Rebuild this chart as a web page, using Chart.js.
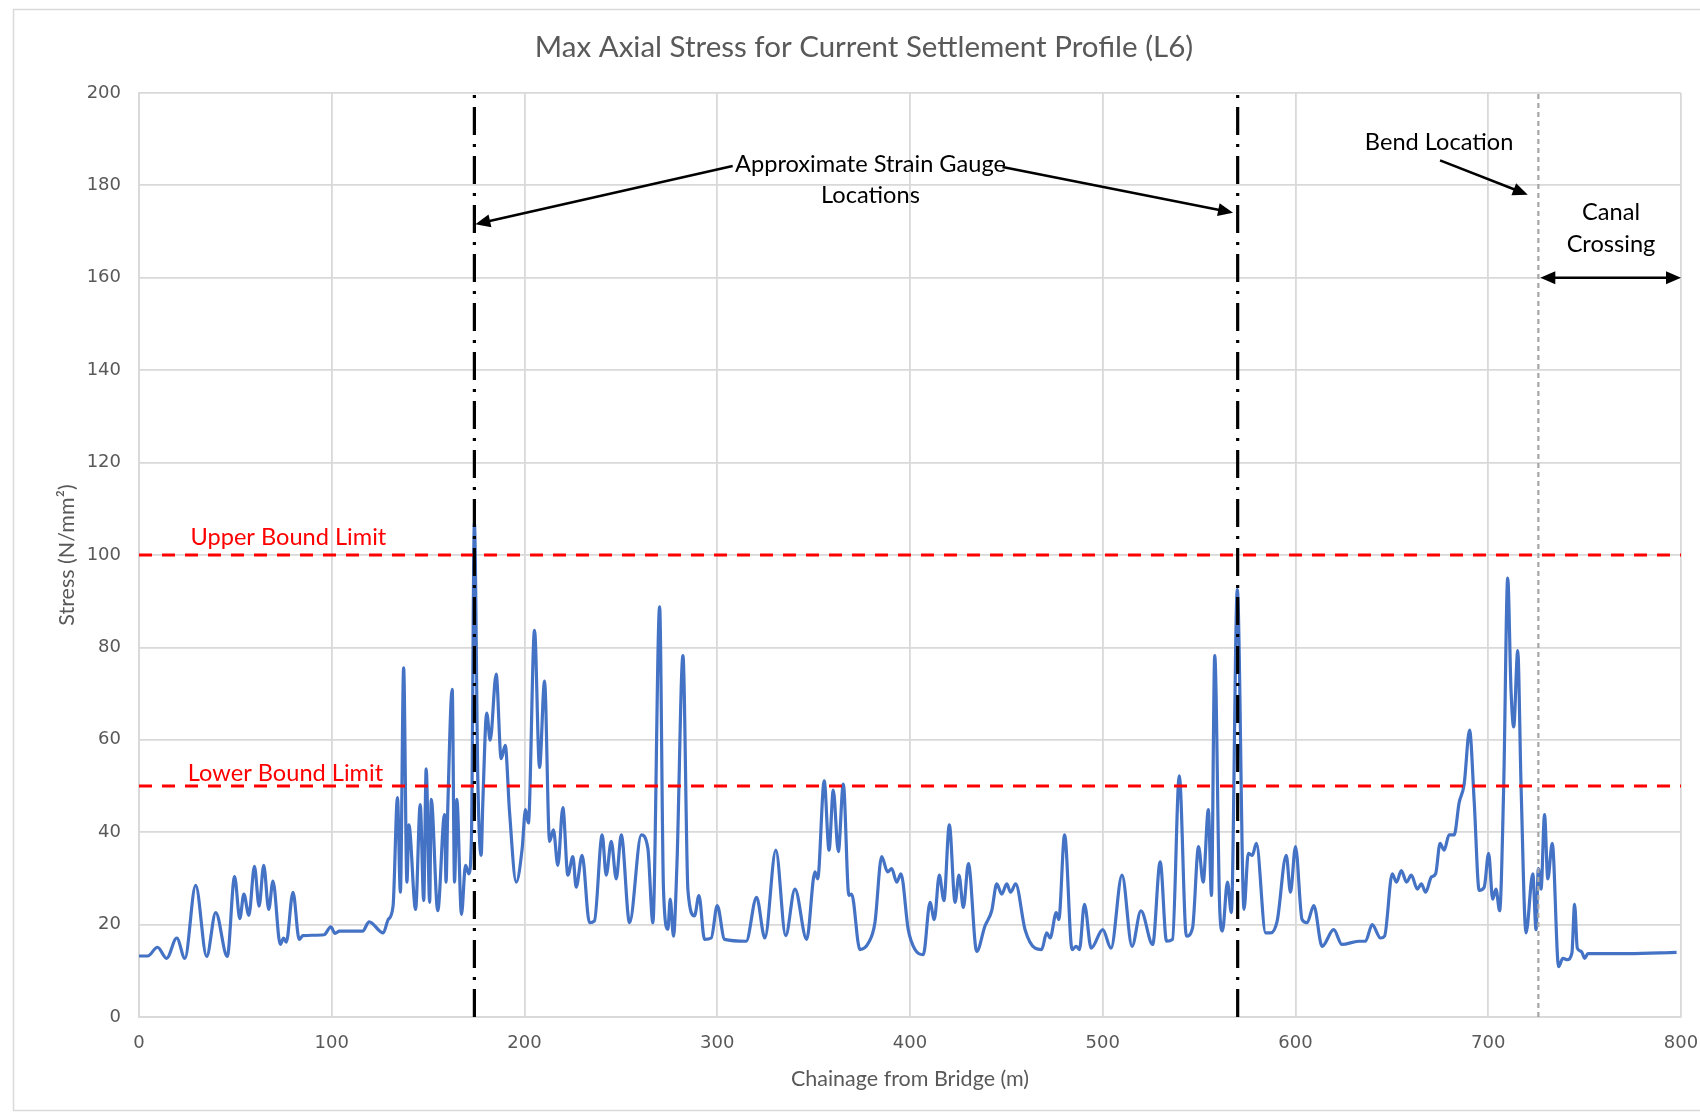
<!DOCTYPE html>
<html><head><meta charset="utf-8">
<script src="https://cdn.jsdelivr.net/npm/chart.js@4.4.1/dist/chart.umd.min.js"></script>
<style>html,body{margin:0;padding:0;background:#fff;}#wrap{width:1700px;height:1116px;}</style>
</head><body><div id="wrap"><canvas id="c" width="1700" height="1116"></canvas></div>
<script>
// ---------------- DATA ----------------
const chainage = [0,4.5,9.6,14.3,19.6,23.8,29.4,35.1,39.8,45.8,49.6,52.3,54.4,57,59.9,62.3,64.7,67.3,69.5,73.3,75,76.4,79.9,83.1,85,90,96,99.5,101.7,104,116,119.4,126.7,129.3,131.8,134.1,135.6,137.3,139,140,143.5,145.9,147.7,149,150.8,151.6,155,
158.5,159.3,160.2,162.5,163.7,164.9,167.3,169.4,171.1,172.5,174,175.8,177.5,178.4,180.4,182.2,185.3,187.9,190,192.2,195.7,198.8,200.5,202,205.2,207.8,210.4,213,215,217.3,219.9,222.5,225.1,226.8,229.9,233.7,236.3,240.3,242.4,245,247.6,250.2,254.5,260.6,264,266.6,270.1,272.1,274.4,275.6,277.3,279.1,282.2,284.8,288.2,290.5,293.4,296.9,300,303.8,315,
320.4,324.7,330.4,335.5,340.3,346.4,350.7,352.1,355.5,358,360.2,362.8,365.4,368.3,369.7,374,378.4,381.8,385.3,388.4,390.5,393.1,395.3,399.1,402.6,406.9,410.4,412.6,415.2,417.6,420.4,423.4,425.4,427.7,430.3,434.6,438.9,442.4,445,447.6,450.2,452.2,454.8,459.7,464.9,468.3,470.9,472.7,
475.9,477.2,480.2,484.1,486.2,487.9,490.5,494,500,504.3,510,515.2,519.8,525.9,529.8,533.1,536.2,539.7,543.4,546.6,549.7,552.1,554.8,556.4,558.1,560.7,562.1,564.7,566.7,569.8,573.3,575.5,577.6,579.7,584.5,587.1,590.5,595.2,597.4,600,603.4,606,609.5,613.8,619.8,624.1,632.8,
636.3,639.8,644.1,646.2,650.2,652.4,654.9,657.6,660.1,663.2,665.3,667.5,670.5,672.7,675,677.1,679.7,682.3,684.9,687.5,690.3,692.7,695.3,697.9,700.2,702.3,704,705.9,708,710.1,711.8,713.2,715.3,717,719.6,723.1,724.8,726,727.4,729.2,730.9,733.2,736.5,738.7,741,743.4,744.8,746.2,748.3,750,751.7,772.6,797.7];
const stress = [13.2,13.2,15.1,12.7,17.1,12.7,28.5,13.1,22.6,13.1,30.4,21.3,26.6,22,32.6,24,32.8,23.3,29.4,15.7,17.1,16.2,27,16.8,17.6,17.7,17.8,19.5,18.1,18.6,18.6,20.6,18.2,21.1,24,47.5,27,75.6,29.2,41.6,23.3,46,25.2,53.7,24.8,47.1,23,
43.8,29.2,45.3,70.9,29.2,47.1,22.2,32.8,31,39.4,107,51,35,46.7,65.8,59.9,74.2,55.9,58.8,44.6,29.2,36.5,44.9,42,83.7,54,72.7,38,40.5,32.8,45.3,30.7,34.7,28.1,35,20.4,20.8,39.4,30.7,38,29.9,39.4,20.4,39.4,36.5,20.4,88.8,27.7,19,25.5,17.5,33.2,78.2,27.4,21.9,26.3,16.8,17.1,24.1,16.8,16.4,
25.9,17.1,36.1,17.6,27.7,16.8,31.4,29.9,51.1,36.1,49.1,35.8,50.4,26.3,26.6,14.6,16,20.4,34.7,31.4,32.1,29.2,31,18.9,14.6,13.5,24.8,21.1,30.7,25.2,41.6,24.8,30.7,23.7,33.2,14.2,19.7,23,28.8,26.6,28.8,27,28.8,18.9,14.9,14.6,18.2,17.1,
22.6,21.1,39.4,14.6,15.3,14.6,24.4,14.9,18.9,14.9,30.7,15.3,23,15.7,33.6,16.4,16.8,52.2,17.5,19.3,36.9,29.2,44.9,26.3,78.2,23.3,18.6,29.2,22.6,92.5,23.3,35.4,35,37.6,18.2,18.2,20.8,35,27,36.9,21.1,20.4,24.1,15.3,18.9,15.7,16.4,
16.4,20,17.1,17.5,31,29.2,31.7,29.2,30.7,27.7,28.8,27,30.3,31,37.6,36.1,39.4,39.4,46.4,50.4,62.1,46.7,27.4,28.1,35.4,25.5,27.7,23,49.7,95,70.9,62.8,79.3,50.4,18.2,31,18.9,32.1,27.7,43.8,29.9,37.6,10.9,12.7,12.4,13.8,24.4,14.9,14.2,12.7,13.7,13.7,14];
const xTickValues = [0,100,200,300,400,500,600,700,800];
const yTickValues = [0,20,40,60,80,100,120,140,160,180,200];
const limitValues = [100, 50];
const limitLabels = ['Upper Bound Limit', 'Lower Bound Limit'];
const gaugeLocations = [174, 570];
const bendLocation = 726;
const canalCrossing = [726, 800];
const canalArrowLevel = 160;

// ---------------- ANNOTATIONS (value space) ----------------
const notes = [
  {text:'Approximate Strain Gauge', x:379.5, y:184.6, color:'#000'},
  {text:'Locations', x:379.5, y:177.9, color:'#000'},
  {text:'Bend Location', x:674.5, y:189.4, color:'#000'},
  {text:'Canal', x:763.7, y:174.2, color:'#000'},
  {text:'Crossing', x:763.7, y:167.3, color:'#000'},
  {text:limitLabels[0], x:77.5, y:103.8, color:'#ff0000'},
  {text:limitLabels[1], x:76, y:52.7, color:'#ff0000'}
];
const arrows = [
  {x0:308, y0:184.2, x1:gaugeLocations[0]+0.5, y1:171.6, both:false},
  {x0:448, y0:184.0, x1:gaugeLocations[1]-2.4, y1:174.1, both:false},
  {x0:675, y0:185.4, x1:bendLocation-5.5, y1:178.0, both:false},
  {x0:canalCrossing[0]+1, y0:canalArrowLevel, x1:canalCrossing[1], y1:canalArrowLevel, both:true}
];

const pts = chainage.map((x,i)=>({x:x, y:stress[i]}));
const hLine = v => [{x:0,y:v},{x:800,y:v}];
const vLine = v => [{x:v,y:0},{x:v,y:200}];

const annPlugin = {
  id:'ann',
  beforeDraw(chart){
    const ctx = chart.ctx;
    ctx.save();
    ctx.fillStyle = '#fff';
    ctx.fillRect(0,0,chart.width,chart.height);
    ctx.strokeStyle = '#d9d9d9';
    ctx.lineWidth = 1.5;
    ctx.strokeRect(13.5, 9.5, 1720, 1101);
    ctx.fillStyle = '#595959';
    ctx.font = '29.5px Lato';
    ctx.textAlign = 'center';
    ctx.textBaseline = 'middle';
    ctx.fillText('Max Axial Stress for Current Settlement Profile (L6)', 864, 47);
    ctx.restore();
  },
  afterDatasetsDraw(chart){
    const ctx = chart.ctx, xs = chart.scales.x, ys = chart.scales.y;
    ctx.save();
    ctx.font = '23.6px Lato';
    ctx.textAlign = 'center';
    ctx.textBaseline = 'middle';
    notes.forEach(n=>{
      ctx.fillStyle = n.color;
      ctx.fillText(n.text, xs.getPixelForValue(n.x), ys.getPixelForValue(n.y));
    });
    const head = (x,y,ang)=>{
      const L=15, W=6.5;
      ctx.beginPath();
      ctx.moveTo(x,y);
      ctx.lineTo(x - L*Math.cos(ang) + W*Math.sin(ang), y - L*Math.sin(ang) - W*Math.cos(ang));
      ctx.lineTo(x - L*Math.cos(ang) - W*Math.sin(ang), y - L*Math.sin(ang) + W*Math.cos(ang));
      ctx.closePath();
      ctx.fill();
    };
    ctx.strokeStyle = '#000';
    ctx.fillStyle = '#000';
    ctx.lineWidth = 2.5;
    arrows.forEach(a=>{
      const px0 = xs.getPixelForValue(a.x0), py0 = ys.getPixelForValue(a.y0);
      const px1 = xs.getPixelForValue(a.x1), py1 = ys.getPixelForValue(a.y1);
      const ang = Math.atan2(py1-py0, px1-px0);
      const sx = a.both ? px0 + 10*Math.cos(ang) : px0, sy = a.both ? py0 + 10*Math.sin(ang) : py0;
      ctx.beginPath();
      ctx.moveTo(sx, sy);
      ctx.lineTo(px1 - 10*Math.cos(ang), py1 - 10*Math.sin(ang));
      ctx.stroke();
      head(px1, py1, ang);
      if (a.both) head(px0, py0, ang + Math.PI);
    });
    ctx.restore();
  }
};

function build(){
  const tickFont = {family:'DejaVu Sans', size:18};
  new Chart(document.getElementById('c'), {
    type:'line',
    data:{datasets:[
      {label:'Stress', data:pts, borderColor:'#4472C4', borderWidth:3.2, pointRadius:0, cubicInterpolationMode:'monotone', order:10},
      {label:'Upper', data:hLine(limitValues[0]), borderColor:'#ff0000', borderWidth:3, borderDash:[13,10], pointRadius:0, order:1},
      {label:'Lower', data:hLine(limitValues[1]), borderColor:'#ff0000', borderWidth:3, borderDash:[13,10], pointRadius:0, order:1},
      {label:'Bend', data:vLine(bendLocation), borderColor:'#a6a6a6', borderWidth:2.2, borderDash:[5,4], pointRadius:0, order:2},
      {label:'G1', data:vLine(gaugeLocations[0]), borderColor:'#000', borderWidth:3.2, borderDash:[28,9,3,9], pointRadius:0, order:0},
      {label:'G2', data:vLine(gaugeLocations[1]), borderColor:'#000', borderWidth:3.2, borderDash:[28,9,3,9], pointRadius:0, order:0}
    ]},
    options:{
      responsive:false, animation:false, devicePixelRatio:1,
      layout:{padding:{top:93, right:19, left:0, bottom:0}},
      plugins:{legend:{display:false}, tooltip:{enabled:false}, title:{display:false}},
      scales:{
        x:{type:'linear', min:0, max:800,
          afterBuildTicks: s => { s.ticks = xTickValues.map(v=>({value:v})); },
          afterFit: s => { s.height = 99; s.paddingRight = 0; s.paddingLeft = 0; },
          grid:{color:'#d9d9d9', lineWidth:1.8, drawTicks:false},
          border:{color:'#d9d9d9', width:1.8},
          ticks:{color:'#595959', font:tickFont, padding:16, maxRotation:0, autoSkip:false},
          title:{display:true, text:'Chainage from Bridge (m)', color:'#595959', font:{family:'Lato', size:21.5}, padding:{top:0, bottom:24.1}}
        },
        y:{type:'linear', min:0, max:200,
          afterBuildTicks: s => { s.ticks = yTickValues.map(v=>({value:v})); },
          afterFit: s => { s.width = 139; s.paddingTop = 0; s.paddingBottom = 0; },
          grid:{color:'#d9d9d9', lineWidth:1.8, drawTicks:false},
          border:{color:'#d9d9d9', width:1.8},
          ticks:{color:'#595959', font:tickFont, padding:18, autoSkip:false},
          title:{display:true, text:'Stress (N/mm²)', color:'#595959', font:{family:'Lato', size:21.5}, padding:{top:54.1, bottom:0}}
        }
      }
    },
    plugins:[annPlugin]
  });
}
Promise.all([document.fonts.load('25px Lato'), document.fonts.load('16px "DejaVu Sans"')]).then(build, build);
</script></body></html>
